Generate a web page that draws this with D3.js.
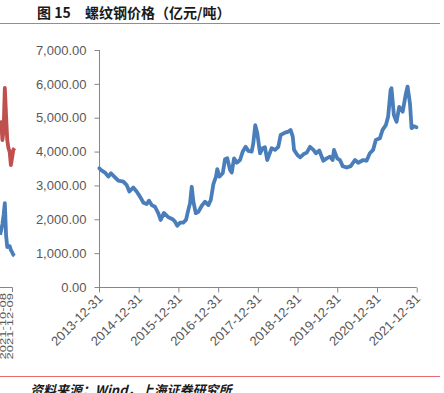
<!DOCTYPE html>
<html>
  <head>
    <meta charset="utf-8">
    <script src="https://d3js.org/d3.v7.min.js"></script>
    <style>
      body { margin: 0; background: #fff; }
      svg { display: block; }
      .axis text { font-family: "Liberation Sans", Arial, sans-serif; font-size: 13px; fill: #595959; }
      .axis path, .axis line { stroke: #868686; }
    </style>
  </head>
  <body>
    <script>
      // rebar price, main series
      var dates = [
        "2014-01-03","2014-01-20","2014-02-24","2014-03-27","2014-04-20","2014-05-27","2014-06-27","2014-08-12",
        "2014-09-12","2014-10-06","2014-11-11","2014-12-12","2015-01-12","2015-02-13","2015-03-15","2015-04-05",
        "2015-04-30","2015-05-30","2015-06-29","2015-07-21","2015-08-20","2015-09-30","2015-11-09","2015-11-30",
        "2015-12-21","2016-01-15","2016-02-14","2016-03-10","2016-03-31","2016-04-16","2016-05-02","2016-05-17",
        "2016-06-08","2016-07-02","2016-08-02","2016-09-01","2016-10-02","2016-10-24","2016-11-17","2016-12-11",
        "2016-12-23","2017-01-11","2017-02-11","2017-03-04","2017-03-25","2017-04-19","2017-05-05","2017-05-26",
        "2017-06-20","2017-07-20","2017-08-14","2017-09-10","2017-10-04","2017-11-04","2017-11-19","2017-12-07",
        "2017-12-26","2018-01-20","2018-02-13","2018-03-06","2018-03-27","2018-05-07","2018-06-07","2018-07-07",
        "2018-07-29","2018-09-07","2018-10-08","2018-10-28","2018-11-17","2018-11-29","2018-12-30","2019-01-24",
        "2019-02-23","2019-03-26","2019-04-25","2019-05-26","2019-06-19","2019-07-19","2019-08-25","2019-09-25",
        "2019-10-25","2019-11-19","2019-12-01","2019-12-31","2020-01-25","2020-02-19","2020-03-27","2020-05-03",
        "2020-06-11","2020-07-11","2020-08-26","2020-09-26","2020-10-26","2020-11-25","2020-12-20","2021-01-26",
        "2021-02-20","2021-03-22","2021-04-12","2021-05-05","2021-05-13","2021-06-04","2021-06-29","2021-07-23",
        "2021-08-24","2021-09-23","2021-10-08","2021-10-30","2021-11-14","2021-12-05","2021-12-29"
      ];
      var prices = [
        3510,3450,3380,3260,3360,3240,3140,3110,
        3010,2820,2940,2820,2670,2490,2450,2550,
        2420,2370,2180,1980,2190,2060,2000,1930,
        1810,1900,1900,1980,2270,2470,2960,2520,
        2180,2220,2400,2520,2420,2570,3040,3260,
        3480,3260,3360,3770,3800,3460,3380,3800,
        3670,3750,4000,4140,4020,4000,4240,4780,
        4540,3950,4100,4130,3750,4100,4050,4140,
        4490,4560,4590,4640,4440,4050,3900,3830,
        3920,3970,4140,4050,3950,4030,3730,3800,
        3850,3750,4050,3800,3750,3570,3530,3570,
        3750,3670,3750,3730,3950,4050,4340,4390,
        4640,4780,5030,5820,5870,5080,4880,5320,
        5180,5720,5920,5420,4690,4750,4720
      ];
      var tickDates = ["2013-12-31","2014-12-31","2015-12-31","2016-12-31","2017-12-31",
                       "2018-12-31","2019-12-31","2020-12-31","2021-12-31"];
      var yTicks = [0, 1000, 2000, 3000, 4000, 5000, 6000, 7000];

      // cut-off edge of the previous figure (left border)
      var edgeLabels = ["2021-10-08", "2021-12-09"];
      var edgeRed = [4700,4870,4340,4640,5880,5080,4340,4100,3990,3600,3810,4050,4100];
      var edgeBlue = [1540,1680,1860,2130,2480,1540,1180,1210,1210,1090,1030,950,920];

      var W = 444, H = 393;
      var parse = d3.timeParse("%Y-%m-%d");

      var svg = d3.select("body").append("svg")
          .attr("width", W)
          .attr("height", H);

      // title and rules
      svg.append("text")
          .attr("x", 37).attr("y", 18)
          .style("font-family", "'Noto Sans CJK SC', sans-serif")
          .style("font-size", "14px")
          .style("font-weight", "bold")
          .attr("fill", "#1a1a1a")
          .text("图 15");
      svg.append("text")
          .attr("x", 85).attr("y", 18)
          .style("font-family", "'Noto Sans CJK SC', sans-serif")
          .style("font-size", "14px")
          .style("font-weight", "bold")
          .attr("fill", "#1a1a1a")
          .text("螺纹钢价格（亿元/吨）");
      svg.append("line")
          .attr("x1", 0).attr("x2", 440).attr("y1", 23.5).attr("y2", 23.5)
          .attr("stroke", "#e8696b").attr("stroke-width", 1);
      svg.append("line")
          .attr("x1", 0).attr("x2", 440).attr("y1", 376.5).attr("y2", 376.5)
          .attr("stroke", "#e8696b").attr("stroke-width", 1);
      svg.append("text")
          .attr("x", 30).attr("y", 395)
          .style("font-family", "'Noto Sans CJK SC', sans-serif")
          .style("font-size", "13px")
          .style("font-weight", "bold")
          .style("font-style", "italic")
          .attr("fill", "#1a1a1a")
          .text("资料来源：Wind，上海证券研究所");

      // scales
      var x = d3.scaleTime()
          .domain([parse(tickDates[0]), parse(tickDates[tickDates.length - 1])])
          .range([99, 416.7]);
      var y = d3.scaleLinear()
          .domain([0, 7000])
          .range([287, 50]);

      // y axis
      svg.append("g")
          .attr("class", "axis")
          .attr("transform", "translate(99.5,0)")
          .call(d3.axisLeft(y).tickValues(yTicks).tickSize(5).tickPadding(8)
                .tickFormat(d3.format(",.2f")))
        .select(".domain").attr("d", "M0,50V287");

      // x axis
      var xAxis = svg.append("g")
          .attr("class", "axis")
          .attr("transform", "translate(0,287.5)")
          .call(d3.axisBottom(x).tickValues(tickDates.map(parse)).tickSize(5)
                .tickFormat(d3.timeFormat("%Y-%m-%d")));
      xAxis.select(".domain").attr("d", "M99,0H416.7");
      xAxis.selectAll("text")
          .attr("text-anchor", "end")
          .attr("dy", null)
          .attr("y", 0)
          .attr("transform", "translate(4,12) rotate(-45)");

      // price line
      var line = d3.line()
          .x(function(d, i) { return x(parse(dates[i])); })
          .y(function(d) { return y(d); });
      svg.append("path")
          .datum(prices)
          .attr("fill", "none")
          .attr("stroke", "#4a7ebb")
          .attr("stroke-width", 3.8)
          .attr("stroke-linejoin", "round")
          .attr("stroke-linecap", "round")
          .attr("d", line);

      // left edge fragment
      var xe = d3.scaleLinear().domain([0, edgeRed.length - 1]).range([0, 14.5]);
      var edgeLine = d3.line()
          .x(function(d, i) { return xe(i); })
          .y(function(d) { return y(d); });
      svg.append("path").datum(edgeRed)
          .attr("fill", "none").attr("stroke", "#c0504d").attr("stroke-width", 3.8)
          .attr("stroke-linejoin", "round").attr("d", edgeLine);
      svg.append("path").datum(edgeBlue)
          .attr("fill", "none").attr("stroke", "#4a7ebb").attr("stroke-width", 3.8)
          .attr("stroke-linejoin", "round").attr("d", edgeLine);

      var xl = d3.scalePoint().domain(edgeLabels).range([5.5, 12.5]);
      svg.append("path")
          .attr("d", "M0,287.5H12.5V292")
          .attr("fill", "none").attr("stroke", "#868686");
      svg.append("g").selectAll("text")
          .data(edgeLabels)
        .enter().append("text")
          .attr("text-anchor", "end")
          .attr("transform", function(d) { return "translate(" + xl(d) + ",293) rotate(-90) scale(1,0.7)"; })
          .style("font-family", "'Liberation Sans', Arial, sans-serif")
          .style("font-size", "13px")
          .attr("fill", "#595959")
          .text(function(d) { return d; });
    </script>
  </body>
</html>
